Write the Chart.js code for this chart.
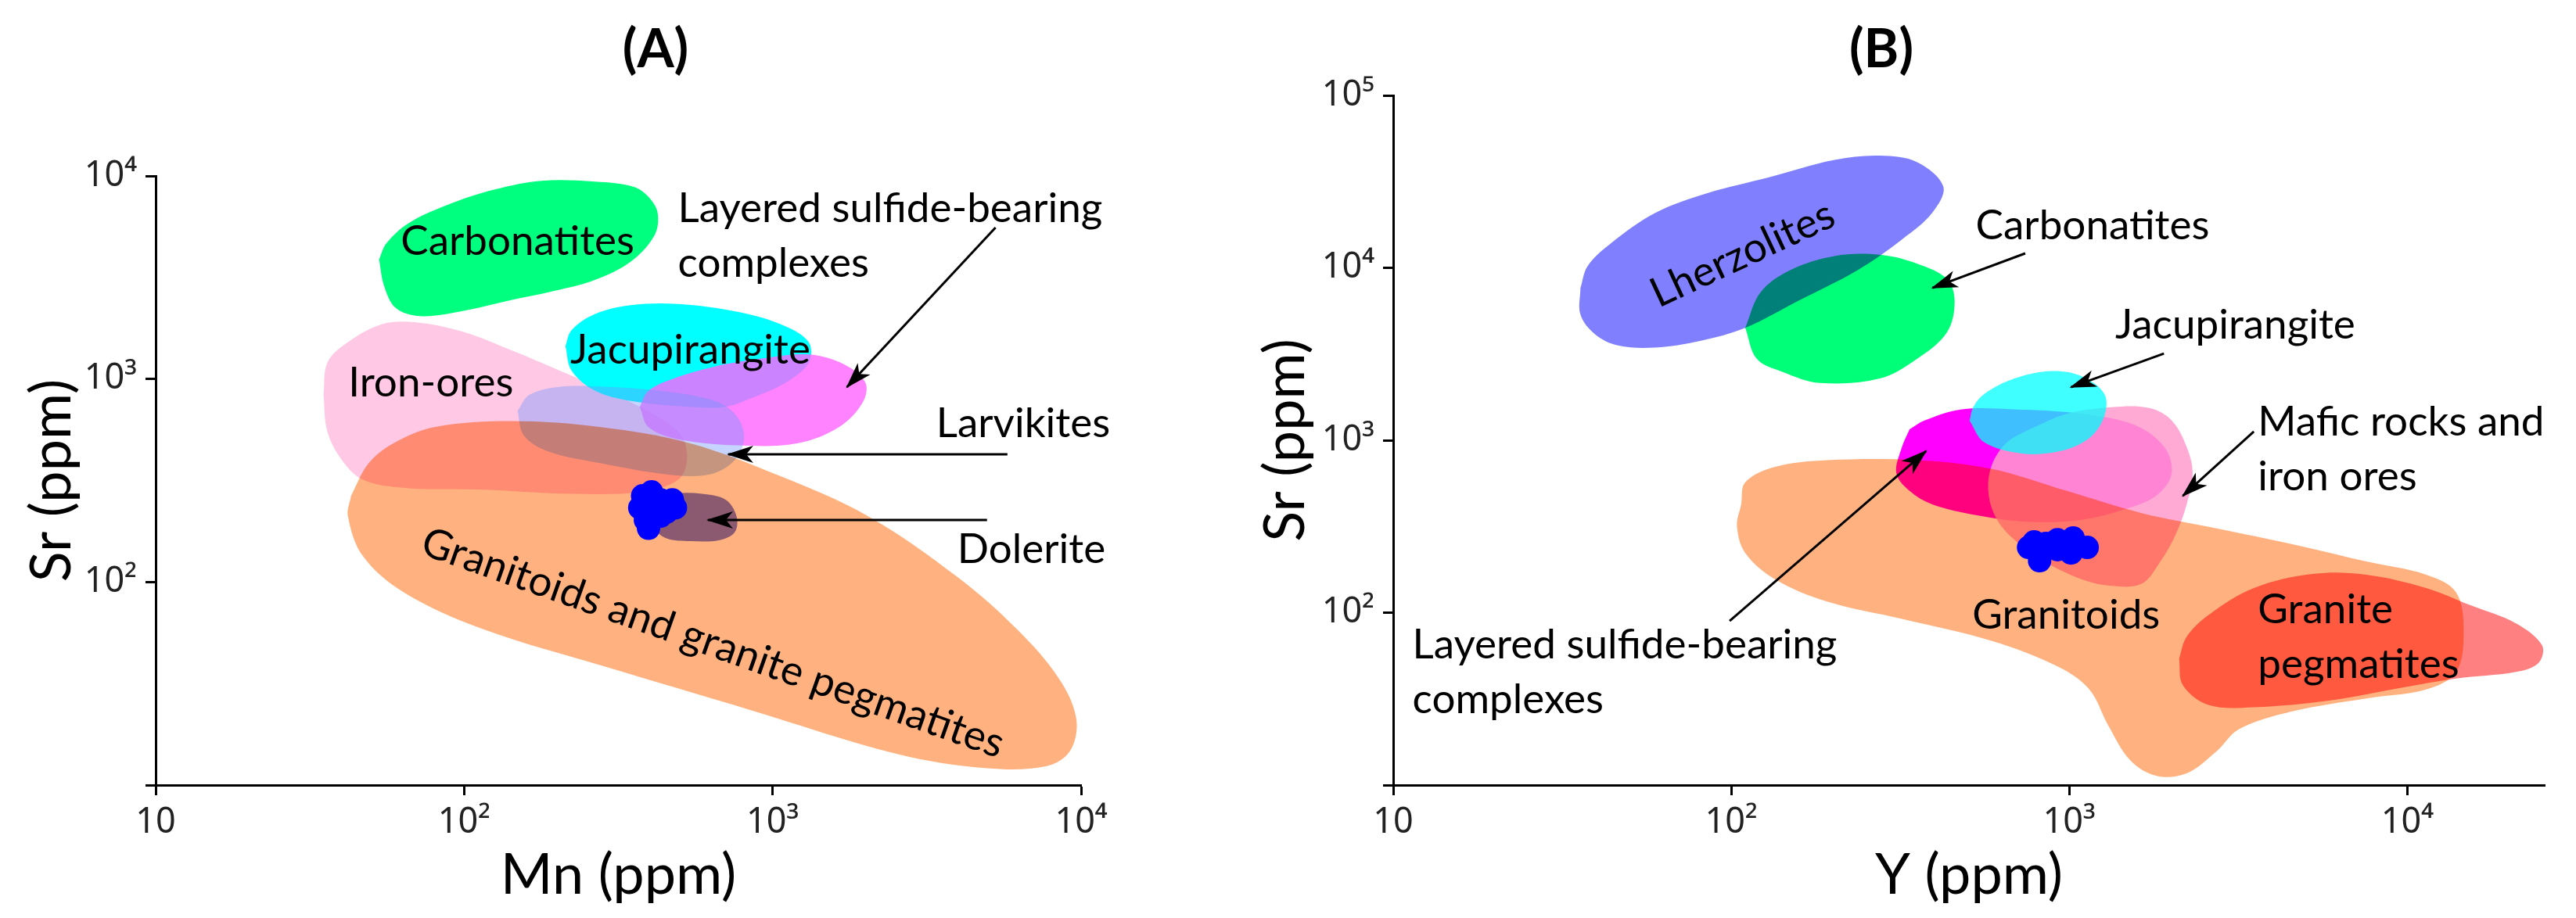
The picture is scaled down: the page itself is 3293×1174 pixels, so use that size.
<!DOCTYPE html>
<html>
<head>
<meta charset="utf-8">
<script src="https://cdn.jsdelivr.net/npm/chart.js@4.4.0/dist/chart.umd.min.js"></script>
<style>
  body { margin: 0; background: #fff; width: 3293px; height: 1174px; position: relative; overflow: hidden; }
  .panel { position: absolute; top: 0; height: 1174px; }
  #wrapA { left: 0; width: 1540px; }
  #wrapB { left: 1540px; width: 1753px; }
</style>
</head>
<body>
<div class="panel" id="wrapA"><canvas id="chartA"></canvas></div>
<div class="panel" id="wrapB"><canvas id="chartB"></canvas></div>
<script>
// decade ticks
const decadesA = [10, 100, 1000, 10000];
const decadesBx = [10, 100, 1000, 10000];
const decadesBy = [10, 100, 1000, 10000, 100000];

// ---- panel A: Mn vs Sr (ppm), field outlines as [Mn, Sr]
const ironOresA = [[35,835],[36,1200],[41,1480],[54,1860],[70,1900],[100,1700],[143,1380],[204,1100],[290,875],[414,665],[505,528],[528,402],[494,319],[379,278],[223,272],[115,285],[64,291],[47,319],[40,402],[36,553]];
const carbonatitesA = [[53,3880],[55,2880],[60,2240],[72,2040],[96,2140],[143,2450],[204,2750],[266,3080],[347,3790],[414,5100],[424,6560],[396,7880],[355,8840],[266,9380],[178,9470],[125,8560],[88,7190],[66,5850],[56,4660]];
const jacupirangiteA = [[213,1450],[223,1100],[266,875],[347,780],[541,729],[705,729],[842,798],[1100,958],[1310,1205],[1310,1515],[1100,1820],[771,2140],[494,2340],[347,2310],[266,2090],[223,1740]];
const layeredA = [[371,729],[396,579],[494,505],[771,471],[1200,482],[1640,579],[1955,762],[2000,958],[1710,1178],[1310,1320],[920,1260],[646,1150],[473,1000],[396,875]];
const larvikitesA = [[149,696],[156,528],[187,440],[278,384],[433,342],[591,334],[705,366],[787,440],[805,553],[738,696],[617,798],[433,875],[290,915],[204,915],[163,836]];
const granitoidsA = [[43,266],[49,384],[59,482],[80,579],[143,620],[278,579],[541,482],[1050,334],[2040,211],[3970,106],[6190,58.6],[8440,33.8],[9640,21.4],[9230,14.8],[7730,12.4],[4960,12.1],[2550,14.2],[842,23.5],[278,38.8],[115,58.6],[64,88.6],[47,134],[42,211]];
const doleriteA = [[414,254],[473,272],[591,272],[705,254],[764,211],[754,176],[674,161],[541,159],[453,164],[414,184],[405,221]];
const sampleMn = [379,405,433,473,484,453,414,371,387,396,433];
const sampleSrA = [266,278,254,254,232,221,232,232,202,184,211];

// ---- panel B: Y vs Sr (ppm), field outlines as [Y, Sr]
const lherzolitesB = [[35.8,7640],[35.8,5360],[39.6,4110],[46.2,3550],[59.6,3450],[80.9,3770],[110,4490],[157,6400],[236,9670],[320,14600],[393,20800],[424,29600],[355,41000],[275,44700],[202,42200],[128,33300],[85,27100],[59.6,20800],[43.9,13800],[37.6,10250]];
const carbonatitesB = [[110,4490],[119,2970],[142,2490],[183,2150],[275,2280],[355,2970],[435,4240],[458,6400],[435,8590],[355,10560],[275,11900],[202,11700],[149,9670],[122,7200]];
const layeredB = [[337,1158],[320,915],[308,643],[337,508],[393,425],[534,367],[762,336],[1089,346],[1479,401],[1814,479],[2009,643],[1909,915],[1557,1229],[1089,1424],[688,1511],[482,1511],[373,1303]];
const maficB = [[762,1158],[984,1424],[1336,1555],[1724,1537],[2009,1303],[2225,915],[2317,643],[2225,425],[2061,282],[1861,198],[1638,147],[1336,143],[1089,156],[845,198],[688,265],[606,357],[576,508],[591,723],[654,971]];
const granitoidsB = [[107,425],[110,571],[135,702],[192,767],[355,767],[591,682],[984,508],[1638,378],[2728,308],[4542,250],[7562,198],[11370,166],[13950,131],[14680,77],[13950,45.3],[11370,35.8],[7562,31.8],[4542,26.7],[3178,21.1],[2728,15.7],[2225,11.7],[1814,11.3],[1517,13.9],[1302,22.3],[1147,35.8],[935,48.1],[591,68.4],[320,91.9],[192,116],[135,156],[110,222],[104,317]];
const pegmatitesB = [[2113,54.1],[2168,38],[2592,29.1],[3519,28.3],[5861,30.9],[9759,36.9],[13950,41.5],[20970,45.3],[24430,51],[25060,64.5],[20970,86.6],[15440,110],[11370,139],[7562,166],[5292,168],[3519,139],[2592,97.5],[2225,72.6]];
const jacupirangiteB = [[507,1300],[561,971],[724,838],[935,863],[1147,1030],[1270,1383],[1270,1856],[1089,2350],[889,2520],[688,2280],[561,1856],[520,1555]];
const sampleY = [787,923,1027,1130,1012,817,923,758,853];
const sampleSrB = [257,265,271,239,222,200,232,239,252];

// ---- annotations (data coordinates)
const arrowsA = [
  [[5280,5570],[1742,912]],
  [[5770,426],[718,426]],
  [[4955,202],[617,202]]
];
const arrowsB = [
  [[741,12130],[394,7658]],
  [[1906,3184],[1012,2032]],
  [[3516,1122],[2168,476]],
  [[98.9,89.6],[377,865]]
];
const labelsA = [
  { text: ['Carbonatites'], at: [149,4760] },
  { text: ['Layered sulfide-bearing','complexes'], at: [493,6900], align: 'left' },
  { text: ['Jacupirangite'], at: [541,1380] },
  { text: ['Iron-ores'], at: [78,958] },
  { text: ['Larvikites'], at: [3390,600], align: 'left' },
  { text: ['Dolerite'], at: [3970,144], align: 'left' },
  { text: ['Granitoids and granite pegmatites'], at: [640,50], angle: 19.5 }
];
const labelsB = [
  { text: ['Lherzolites'], at: [108,12000], angle: -25 },
  { text: ['Carbonatites'], at: [1172,17500] },
  { text: ['Jacupirangite'], at: [3097,4645] },
  { text: ['Mafic rocks and','iron ores'], at: [3614,1271], align: 'left' },
  { text: ['Granitoids'], at: [979,96.4] },
  { text: ['Granite','pegmatites'], at: [3614,104], align: 'left' },
  { text: ['Layered sulfide-bearing','complexes'], at: [11.4,64.6], align: 'left' }
];

const LABEL_FONT = 'Lato, "Open Sans", sans-serif';
const SUP = '⁰¹²³⁴⁵⁶⁷⁸⁹';

function decadeLabel(v, showTen) {
  const e = Math.round(Math.log10(v));
  if (e === 1) return showTen ? '10' : '';
  return '10' + String(e).split('').map(c => SUP[c]).join('');
}

function field(points, color, blend) {
  const pts = points.concat([points[0]]);
  return {
    data: pts.map(([x, y]) => ({ x, y })),
    showLine: true, tension: 0.35, borderWidth: 0, borderColor: 'rgba(0,0,0,0)',
    backgroundColor: 'rgba(0,0,0,0)', pointRadius: 0,
    fieldColor: color, blend: blend || 'source-over'
  };
}

function arrow(pair) {
  return {
    data: pair.map(([x, y]) => ({ x, y })),
    showLine: true, tension: 0, borderColor: '#000', borderWidth: 3,
    backgroundColor: '#000', pointRadius: 0, arrow: true
  };
}

function samples(xs, ys) {
  return {
    data: xs.map((x, i) => ({ x, y: ys[i] })),
    showLine: false, pointRadius: 15, pointBorderWidth: 0,
    backgroundColor: '#0000FF', borderColor: '#0000FF'
  };
}

// fills each field through the line element built by Chart.js
const fieldFill = {
  id: 'fieldFill',
  beforeDatasetDraw(chart, args) {
    const ds = chart.data.datasets[args.index];
    const line = args.meta.dataset;
    if (!ds.fieldColor || !line) return;
    const ctx = chart.ctx;
    line.updateControlPoints(chart.chartArea, 'x');
    ctx.save();
    ctx.globalCompositeOperation = ds.blend;
    ctx.fillStyle = ds.fieldColor;
    ctx.beginPath();
    line.path(ctx);
    ctx.closePath();
    ctx.fill();
    ctx.restore();
  }
};

const arrowHeads = {
  id: 'arrowHeads',
  afterDatasetDraw(chart, args) {
    const ds = chart.data.datasets[args.index];
    if (!ds.arrow) return;
    const pts = args.meta.data;
    const a = pts[0], b = pts[pts.length - 1];
    const ang = Math.atan2(b.y - a.y, b.x - a.x);
    const ctx = chart.ctx;
    ctx.save();
    ctx.translate(b.x, b.y);
    ctx.rotate(ang);
    ctx.fillStyle = '#000';
    ctx.beginPath();
    ctx.moveTo(2, 0);
    ctx.lineTo(-32, -11);
    ctx.lineTo(-23, 0);
    ctx.lineTo(-32, 11);
    ctx.closePath();
    ctx.fill();
    ctx.restore();
  }
};

function fieldLabels(items) {
  return {
    id: 'fieldLabels',
    afterDatasetsDraw(chart) {
      const { ctx, scales: { x, y } } = chart;
      ctx.save();
      ctx.fillStyle = '#000';
      ctx.font = '53px ' + LABEL_FONT;
      ctx.textBaseline = 'middle';
      for (const lab of items) {
        ctx.save();
        ctx.translate(x.getPixelForValue(lab.at[0]), y.getPixelForValue(lab.at[1]));
        ctx.rotate((lab.angle || 0) * Math.PI / 180);
        ctx.textAlign = lab.align || 'center';
        lab.text.forEach((t, i) => ctx.fillText(t, 0, i * 70));
        ctx.restore();
      }
      ctx.restore();
    }
  };
}

function panelTitle(text, px, py) {
  return {
    id: 'panelTitle',
    afterDraw(chart) {
      const ctx = chart.ctx;
      ctx.save();
      ctx.font = 'bold 68px ' + LABEL_FONT;
      ctx.fillStyle = '#000';
      ctx.textAlign = 'center';
      ctx.textBaseline = 'middle';
      ctx.fillText(text, px, py);
      ctx.restore();
    }
  };
}

function logAxis(o) {
  return {
    type: 'logarithmic',
    min: o.min, max: o.max,
    afterBuildTicks: s => { s.ticks = o.ticks.map(v => ({ value: v })); },
    afterFit: s => { if (o.width) s.width = o.width; if (o.height) s.height = o.height; },
    ticks: {
      autoSkip: false, maxRotation: 0, padding: o.tickPad,
      color: '#222', font: tickFont,
      callback: v => decadeLabel(v, o.showTen)
    },
    grid: { display: true, drawOnChartArea: false, drawTicks: true, tickLength: 13, tickWidth: 3, color: '#000' },
    border: { display: true, color: '#000', width: 3 },
    title: { display: true, text: o.title, color: '#000', font: { family: LABEL_FONT, size: 72 }, padding: o.titlePad }
  };
}

const tickFont = { family: '"Noto Sans", sans-serif', size: 45 };

function stackOrder(list) {
  list.forEach((d, i) => { d.order = list.length - i; });
  return list;
}

const dsA = stackOrder([
  field(ironOresA, '#FFC8E4'),
  field(carbonatitesA, '#00FF7F'),
  field(jacupirangiteA, '#00FFFF'),
  field(layeredA, 'rgba(255,100,255,0.8)'),
  field(larvikitesA, 'rgba(110,150,255,0.4)'),
  field(granitoidsA, '#FFB27F', 'multiply'),
  field(doleriteA, '#8B5A70'),
  samples(sampleMn, sampleSrA),
  ...arrowsA.map(arrow)
]);

const dsB = stackOrder([
  field(lherzolitesB, '#8080FF'),
  field(carbonatitesB, '#00FF78', 'multiply'),
  field(layeredB, '#FF00FF'),
  field(maficB, 'rgba(255,155,205,0.85)'),
  field(granitoidsB, '#FFB27F', 'multiply'),
  field(pegmatitesB, '#FF8080', 'multiply'),
  field(jacupirangiteB, 'rgba(0,255,255,0.75)'),
  samples(sampleY, sampleSrB),
  ...arrowsB.map(arrow)
]);

const common = {
  responsive: true,
  maintainAspectRatio: false,
  animation: false,
  events: [],
  plugins: { legend: { display: false }, tooltip: { enabled: false }, title: { display: false } }
};

new Chart(document.getElementById('chartA'), {
  type: 'scatter',
  data: { datasets: dsA },
  options: {
    ...common,
    layout: { padding: { left: 0, top: 225, right: 158, bottom: 0 } },
    scales: {
      x: logAxis({ min: 10, max: 10000, ticks: decadesA, height: 170, tickPad: 8, showTen: true, title: 'Mn (ppm)', titlePad: { top: 0, bottom: 11 } }),
      y: logAxis({ min: 10, max: 10000, ticks: decadesA, width: 199, tickPad: 11, showTen: false, title: 'Sr (ppm)', titlePad: { top: 24, bottom: 0 } })
    }
  },
  plugins: [fieldFill, arrowHeads, fieldLabels(labelsA), panelTitle('(A)', 838, 64)]
});

new Chart(document.getElementById('chartB'), {
  type: 'scatter',
  data: { datasets: dsB },
  options: {
    ...common,
    layout: { padding: { left: 0, top: 122, right: 40, bottom: 0 } },
    scales: {
      x: logAxis({ min: 10, max: 25500, ticks: decadesBx, height: 170, tickPad: 8, showTen: true, title: 'Y (ppm)', titlePad: { top: 0, bottom: 11 } }),
      y: logAxis({ min: 10, max: 100000, ticks: decadesBy, width: 241, tickPad: 11, showTen: false, title: 'Sr (ppm)', titlePad: { top: 61, bottom: 0 } })
    }
  },
  plugins: [fieldFill, arrowHeads, fieldLabels(labelsB), panelTitle('(B)', 865, 64)]
});
</script>
</body>
</html>
